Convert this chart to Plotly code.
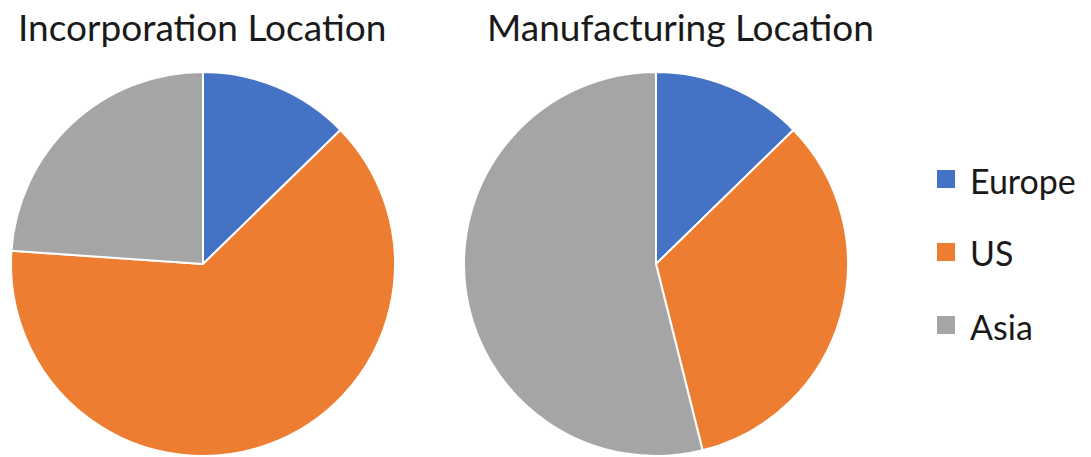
import plotly.graph_objects as go

regions = ["Europe", "US", "Asia"]
incorporation_share = [12.7, 63.4, 23.9]
manufacturing_share = [12.7, 33.4, 53.9]
chart_titles = ["Incorporation Location", "Manufacturing Location"]
colors = ["#4472C4", "#ED7D31", "#A5A5A5"]

W, H = 1091, 457
FONT = "Lato"


def px_x(v):
    return v / W


def px_y(v):
    return 1 - v / H


fig = go.Figure()

pie_style = dict(
    labels=regions,
    sort=False,
    direction="clockwise",
    rotation=0,
    textinfo="none",
    hoverinfo="label+percent",
    showlegend=False,
    marker=dict(colors=colors, line=dict(color="white", width=2)),
)

# left pie: incorporation
fig.add_trace(go.Pie(
    values=incorporation_share,
    domain=dict(x=[px_x(11), px_x(395)], y=[px_y(456), px_y(72)]),
    **pie_style,
))
# right pie: manufacturing
fig.add_trace(go.Pie(
    values=manufacturing_share,
    domain=dict(x=[px_x(464), px_x(848)], y=[px_y(456), px_y(72)]),
    **pie_style,
))

# chart titles
for text, cx in zip(chart_titles, [202, 680]):
    fig.add_annotation(
        text=text, x=px_x(cx), y=px_y(26), xref="paper", yref="paper",
        xanchor="center", yanchor="middle", showarrow=False,
        font=dict(family=FONT, size=37, color="#1a1a1a"),
    )

# legend keys and labels
legend_rows = [179, 252, 325]
for name, col, yc in zip(regions, colors, legend_rows):
    fig.add_shape(
        type="rect", xref="paper", yref="paper",
        x0=px_x(937), x1=px_x(955), y0=px_y(yc + 9), y1=px_y(yc - 9),
        fillcolor=col, line=dict(width=0),
    )
    fig.add_annotation(
        text=name, x=px_x(968), y=px_y(yc + 1), xref="paper", yref="paper",
        xanchor="left", yanchor="middle", showarrow=False,
        font=dict(family=FONT, size=34, color="#1a1a1a"),
    )

fig.update_layout(
    width=W, height=H,
    margin=dict(l=0, r=0, t=0, b=0),
    paper_bgcolor="white",
    plot_bgcolor="white",
)

fig.write_html("out.html")
